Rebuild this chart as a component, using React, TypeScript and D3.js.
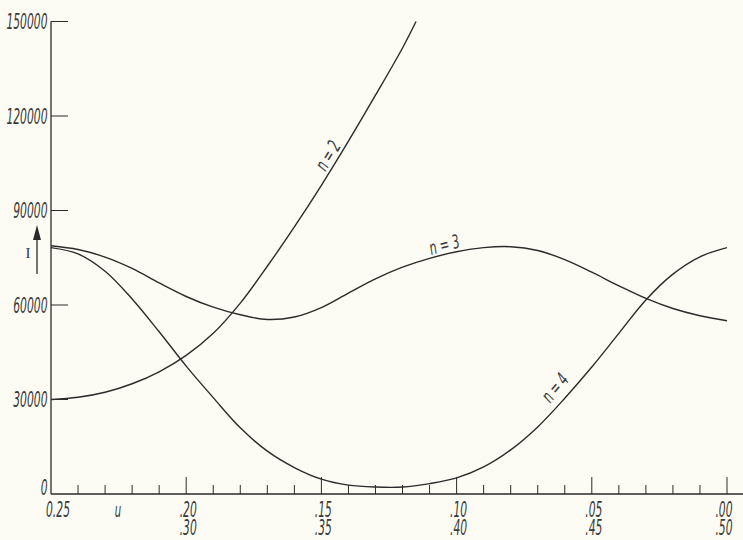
import React from "react";
import * as d3 from "d3";

// u read along the upper row of the axis (0.25 -> 0.00)
const uGrid = [0.25, 0.24, 0.23, 0.22, 0.21, 0.2, 0.19, 0.18, 0.17, 0.16, 0.15, 0.14, 0.13,
  0.12, 0.11, 0.1, 0.09, 0.08, 0.07, 0.06, 0.05, 0.04, 0.03, 0.02, 0.01, 0.0];

const n2U = [0.25, 0.24, 0.23, 0.22, 0.21, 0.2, 0.19, 0.18, 0.17, 0.16, 0.15, 0.14, 0.13, 0.12, 0.115];
const n2Values = [30000, 30700, 32300, 35000, 38800, 44000, 51000, 60600, 72300, 84800, 98000,
  112000, 126600, 141600, 150000];

const n3Values = [78800, 77600, 75200, 71600, 67000, 62700, 59300, 56900, 55400, 56200, 59200,
  63800, 68300, 72000, 74800, 76900, 78200, 78500, 77300, 74400, 70400, 66100, 62100, 58900,
  56600, 55000];

const n4Values = [78200, 76200, 70700, 61900, 51500, 40600, 30600, 21000, 13600, 8400, 4700,
  2800, 2200, 2200, 3300, 5100, 8600, 14000, 21300, 30400, 40300, 51000, 61600, 69800, 75300,
  78200];

const yTicks = [0, 30000, 60000, 90000, 120000, 150000];
const majorU = [0.2, 0.15, 0.1, 0.05, 0.0];
const topLabels = [".20", ".15", ".10", ".05", ".00"];
const bottomLabels = [".30", ".35", ".40", ".45", ".50"];

const W = 743;
const H = 540;
const ink = "#2b2b2b";
const font = "'DejaVu Sans', 'Liberation Sans', sans-serif";

const charW: Record<string, number> = { ".": 3.4, " ": 2.6, "=": 6, n: 6.4, u: 6.4 };
const textLen = (s: string, k: number) =>
  s.split("").reduce((a, c) => a + (charW[c] ?? 6.85), 0) * k;

function Lbl({ x, y, anchor = "middle", size = 21, k = 1, rot = 0, children }: any) {
  const s = String(children);
  return (
    <text
      transform={`translate(${x},${y}) rotate(${rot})`}
      textAnchor={anchor}
      fontFamily={font}
      fontStyle="italic"
      fontWeight={300}
      fontSize={size}
      fill="#3a3a3a"
      textLength={textLen(s, k)}
      lengthAdjust="spacingAndGlyphs"
    >
      {s}
    </text>
  );
}

export default function App() {
  const x = d3.scaleLinear().domain([0.25, 0]).range([51, 727]);
  const y = d3.scaleLinear().domain([0, 150000]).range([494, 21.5]);

  const line = d3
    .line<[number, number]>()
    .x((d) => x(d[0]))
    .y((d) => y(d[1]))
    .curve(d3.curveCatmullRom.alpha(0.5));

  const n2 = n2U.map((u, i) => [u, n2Values[i]] as [number, number]);
  const n3 = uGrid.map((u, i) => [u, n3Values[i]] as [number, number]);
  const n4 = uGrid.map((u, i) => [u, n4Values[i]] as [number, number]);

  const minorU = d3.range(1, 26).map((k) => +(0.25 - k * 0.01).toFixed(2));
  const isMajor = (u: number) => majorU.some((m) => Math.abs(m - u) < 1e-6);

  return (
    <svg width={W} height={H} style={{ position: "absolute", left: 0, top: 0 }}>
      <rect width={W} height={H} fill="#fcfcf5" />

      {/* axes */}
      <line x1={x(0.25)} x2={x(0.25)} y1={y(150000)} y2={y(0)} stroke={ink} strokeWidth={1.3} />
      <line x1={x(0.25)} x2={W} y1={y(0)} y2={y(0)} stroke={ink} strokeWidth={1.3} />

      {yTicks.map((t) => (
        <g key={t}>
          {t > 0 && (
            <line x1={x(0.25)} x2={x(0.25) + 17} y1={y(t)} y2={y(t)} stroke={ink} strokeWidth={1} />
          )}
          <Lbl x={47.5} y={t === 0 ? y(t) + 1 : y(t) + 7.5} anchor="end">
            {t}
          </Lbl>
        </g>
      ))}

      {minorU.map((u) => (
        <line
          key={u}
          x1={x(u)}
          x2={x(u)}
          y1={y(0)}
          y2={y(0) - (isMajor(u) ? 17 : 9)}
          stroke={ink}
          strokeWidth={1}
        />
      ))}

      <Lbl x={x(0.25) + 7} y={517}>0.25</Lbl>
      <Lbl x={118} y={517} size={19}>u</Lbl>
      {majorU.map((u, i) => (
        <g key={u}>
          <Lbl x={x(u) + (u === 0 ? -3 : 2)} y={517}>{topLabels[i]}</Lbl>
          <Lbl x={x(u) + (u === 0 ? -3 : 2)} y={535}>{bottomLabels[i]}</Lbl>
        </g>
      ))}

      {/* I with arrow */}
      <text x={28} y={258} textAnchor="middle" fontFamily="'Liberation Serif', serif" fontSize={15} fill="#3a3a3a">
        I
      </text>
      <line x1={37} x2={37} y1={274} y2={236} stroke={ink} strokeWidth={1.3} />
      <path d="M37,225 L33,240 L41,240 Z" fill={ink} />

      {/* curves */}
      {[n2, n3, n4].map((d, i) => (
        <path key={i} d={line(d) || ""} fill="none" stroke={ink} strokeWidth={1.4} />
      ))}

      <Lbl x={333.5} y={159} rot={-58} size={19} k={1.25}>n = 2</Lbl>
      <Lbl x={446} y={251} rot={-15} size={19} k={1.25}>n = 3</Lbl>
      <Lbl x={560} y={392} rot={-50} size={19} k={1.25}>n = 4</Lbl>
    </svg>
  );
}
